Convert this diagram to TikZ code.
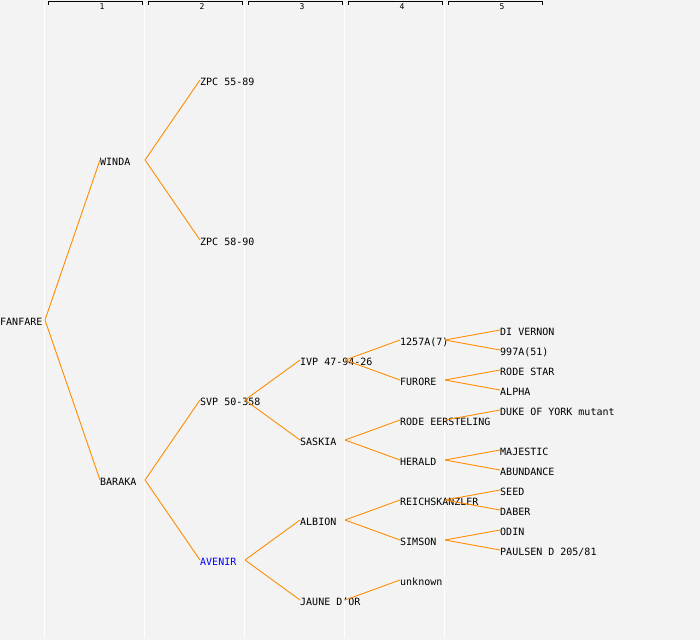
\documentclass[tikz,border=0pt]{standalone}
\usepackage{fontspec}
\setmainfont{DejaVu Sans Mono}
\definecolor{bg}{HTML}{F3F3F3}
\definecolor{branch}{HTML}{FF8C00}
\begin{document}
\begin{tikzpicture}[x=1pt,y=-1pt,
	every node/.style={font=\fontsize{10}{10}\selectfont,inner sep=0pt,anchor=west,text height=7.3pt,text depth=0pt},
	link/.style={draw=branch,line width=0.9pt}]
	\fill[bg] (0,0) rectangle (700,640);
	\useasboundingbox (0,0) rectangle (700,640);
	\foreach \c [count=\n] in {0,100,200,300,400}{
		\draw[white,line width=1.2pt] (44.5+\c,2) -- (44.5+\c,638);
		\draw[line width=0.9pt] (48+\c,4.5) -- (48+\c,1.5) -- (142+\c,1.5) -- (142+\c,4.5);
		\node[anchor=center,font=\fontsize{8}{8}\selectfont,text height=5.8pt] at (102+\c,6.5) {\n};
	}
	\node (fanfare) at (0,322) {FANFARE};
	\node (winda) at (100,162) {WINDA};
	\node (baraka) at (100,482) {BARAKA};
	\node (zpcA) at (200,82) {ZPC 55-89};
	\node (zpcB) at (200,242) {ZPC 58-90};
	\node (svp) at (200,402) {SVP 50-358};
	\node[text=blue] (avenir) at (200,562) {AVENIR};
	\node (ivp) at (300,362) {IVP 47-94-26};
	\node (saskia) at (300,442) {SASKIA};
	\node (albion) at (300,522) {ALBION};
	\node (jaune) at (300,602) {JAUNE D’OR};
	\node (n1257) at (400,342) {1257A(7)};
	\node (furore) at (400,382) {FURORE};
	\node (rodeE) at (400,422) {RODE EERSTELING};
	\node (herald) at (400,462) {HERALD};
	\node (reichs) at (400,502) {REICHSKANZLER};
	\node (simson) at (400,542) {SIMSON};
	\node (unknown) at (400,582) {unknown};
	\node (divernon) at (500,332) {DI VERNON};
	\node (n997) at (500,352) {997A(51)};
	\node (rodestar) at (500,372) {RODE STAR};
	\node (alpha) at (500,392) {ALPHA};
	\node (duke) at (500,412) {DUKE OF YORK mutant};
	\node (majestic) at (500,452) {MAJESTIC};
	\node (abundance) at (500,472) {ABUNDANCE};
	\node (seed) at (500,492) {SEED};
	\node (daber) at (500,512) {DABER};
	\node (odin) at (500,532) {ODIN};
	\node (paulsen) at (500,552) {PAULSEN D 205/81};
	\foreach \p/\c in {fanfare/winda,fanfare/baraka,winda/zpcA,winda/zpcB,baraka/svp,baraka/avenir,
		svp/ivp,svp/saskia,avenir/albion,avenir/jaune,ivp/n1257,ivp/furore,saskia/rodeE,saskia/herald,
		albion/reichs,albion/simson,jaune/unknown,n1257/divernon,n1257/n997,furore/rodestar,furore/alpha,
		rodeE/duke,herald/majestic,herald/abundance,reichs/seed,reichs/daber,simson/odin,simson/paulsen}
		\draw[link] ([shift={(45,-2)}]\p.west) -- ([shift={(0,-2)}]\c.west);
\end{tikzpicture}
\end{document}
